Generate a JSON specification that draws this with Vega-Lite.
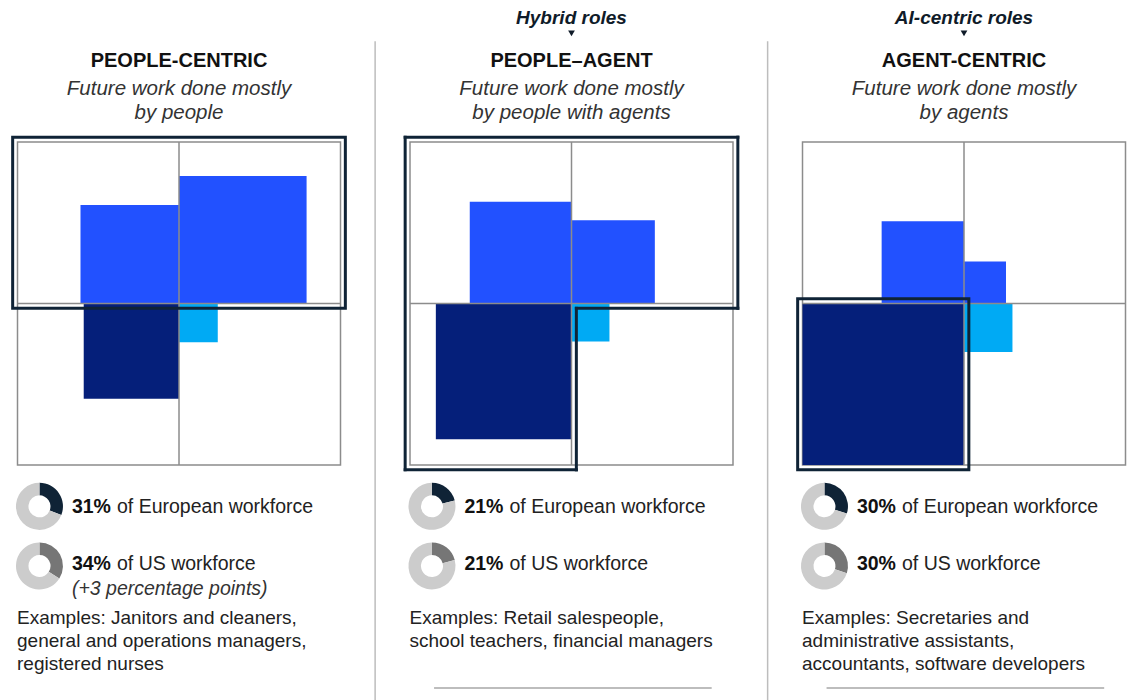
{
  "$schema": "https://vega.github.io/schema/vega-lite/v6.json",
  "padding": 0,
  "bounds": "flush",
  "background": "white",
  "spacing": 42.5,
  "config": {"view": {"stroke": null}, "font": "Liberation Sans", "axis": {"disable": true}},
  "data": {"values": [
    {"kind": "panel", "p": 1}, {"kind": "panel", "p": 2}, {"kind": "panel", "p": 3},
    {"kind": "sq", "p": 1, "quadrant": "TL", "across": -61, "up": 61},
    {"kind": "sq", "p": 1, "quadrant": "TR", "across": 79, "up": 79},
    {"kind": "sq", "p": 1, "quadrant": "BL", "across": -59, "up": -59},
    {"kind": "sq", "p": 1, "quadrant": "BR", "across": 24, "up": -24},
    {"kind": "sq", "p": 2, "quadrant": "TL", "across": -63, "up": 63},
    {"kind": "sq", "p": 2, "quadrant": "TR", "across": 51.6, "up": 51.6},
    {"kind": "sq", "p": 2, "quadrant": "BL", "across": -84, "up": -84},
    {"kind": "sq", "p": 2, "quadrant": "BR", "across": 23.5, "up": -23.5},
    {"kind": "sq", "p": 3, "quadrant": "TL", "across": -51, "up": 51},
    {"kind": "sq", "p": 3, "quadrant": "TR", "across": 26, "up": 26},
    {"kind": "sq", "p": 3, "quadrant": "BL", "across": -100, "up": -100},
    {"kind": "sq", "p": 3, "quadrant": "BR", "across": 30, "up": -30},
    {"kind": "text", "slot": "kicker", "p": 2, "text": "Hybrid roles"},
    {"kind": "text", "slot": "kicker", "p": 3, "text": "AI-centric roles"},
    {"kind": "text", "slot": "title", "p": 1, "text": "PEOPLE-CENTRIC"},
    {"kind": "text", "slot": "title", "p": 2, "text": "PEOPLE–AGENT"},
    {"kind": "text", "slot": "title", "p": 3, "text": "AGENT-CENTRIC"},
    {"kind": "text", "slot": "subtitle", "p": 1, "text": "Future work done mostly\nby people"},
    {"kind": "text", "slot": "subtitle", "p": 2, "text": "Future work done mostly\nby people with agents"},
    {"kind": "text", "slot": "subtitle", "p": 3, "text": "Future work done mostly\nby agents"},
    {"kind": "text", "slot": "eu_val", "p": 1, "text": "31%"},
    {"kind": "text", "slot": "eu_val", "p": 2, "text": "21%"},
    {"kind": "text", "slot": "eu_val", "p": 3, "text": "30%"},
    {"kind": "text", "slot": "eu_lab", "p": 1, "text": "of European workforce"},
    {"kind": "text", "slot": "eu_lab", "p": 2, "text": "of European workforce"},
    {"kind": "text", "slot": "eu_lab", "p": 3, "text": "of European workforce"},
    {"kind": "text", "slot": "us_val", "p": 1, "text": "34%"},
    {"kind": "text", "slot": "us_val", "p": 2, "text": "21%"},
    {"kind": "text", "slot": "us_val", "p": 3, "text": "30%"},
    {"kind": "text", "slot": "us_lab", "p": 1, "text": "of US workforce"},
    {"kind": "text", "slot": "us_lab", "p": 2, "text": "of US workforce"},
    {"kind": "text", "slot": "us_lab", "p": 3, "text": "of US workforce"},
    {"kind": "text", "slot": "us_note", "p": 1, "text": "(+3 percentage points)"},
    {"kind": "text", "slot": "examples", "p": 1, "text": "Examples: Janitors and cleaners,\ngeneral and operations managers,\nregistered nurses"},
    {"kind": "text", "slot": "examples", "p": 2, "text": "Examples: Retail salespeople,\nschool teachers, financial managers"},
    {"kind": "text", "slot": "examples", "p": 3, "text": "Examples: Secretaries and\nadministrative assistants,\naccountants, software developers"},
    {"kind": "donut", "p": 1, "region": "EU", "tone": "eu", "ord": 1, "value": 31},
    {"kind": "donut", "p": 1, "region": "EU", "tone": "rest", "ord": 2, "value": 69},
    {"kind": "donut", "p": 1, "region": "US", "tone": "us", "ord": 1, "value": 34},
    {"kind": "donut", "p": 1, "region": "US", "tone": "rest", "ord": 2, "value": 66},
    {"kind": "donut", "p": 2, "region": "EU", "tone": "eu", "ord": 1, "value": 21},
    {"kind": "donut", "p": 2, "region": "EU", "tone": "rest", "ord": 2, "value": 79},
    {"kind": "donut", "p": 2, "region": "US", "tone": "us", "ord": 1, "value": 21},
    {"kind": "donut", "p": 2, "region": "US", "tone": "rest", "ord": 2, "value": 79},
    {"kind": "donut", "p": 3, "region": "EU", "tone": "eu", "ord": 1, "value": 30},
    {"kind": "donut", "p": 3, "region": "EU", "tone": "rest", "ord": 2, "value": 70},
    {"kind": "donut", "p": 3, "region": "US", "tone": "us", "ord": 1, "value": 30},
    {"kind": "donut", "p": 3, "region": "US", "tone": "rest", "ord": 2, "value": 70}
  ]},
  "facet": {"column": {"field": "p", "type": "ordinal", "header": null}},
  "spec": {
    "width": 350,
    "height": 700,
    "layer": [
      {
        "transform": [{"filter": "datum.kind == 'panel'"}],
        "mark": {"type": "rect", "fill": "white", "stroke": "#8C8C8C", "strokeWidth": 1.5},
        "encoding": {
          "x": {"datum": -100, "scale": {"domain": [-110.84, 105.88], "nice": false, "zero": false}, "axis": null},
          "x2": {"datum": 100},
          "y": {"datum": -100, "scale": {"domain": [-245.51, 187.93], "nice": false, "zero": false}, "axis": null},
          "y2": {"datum": 100}
        }
      },
      {
        "transform": [{"filter": "datum.kind == 'sq'"}],
        "mark": {"type": "rect"},
        "encoding": {
          "x": {"field": "across", "type": "quantitative"},
          "x2": {"datum": 0},
          "y": {"field": "up", "type": "quantitative"},
          "y2": {"datum": 0},
          "color": {"field": "quadrant", "type": "nominal", "legend": null,
            "scale": {"domain": ["TL", "TR", "BL", "BR", "eu", "us", "rest"], "range": ["#2251FF", "#2251FF", "#051F7A", "#00AAF4", "#0F2336", "#767676", "#CCCCCC"]}}
        }
      },
      {
        "transform": [{"filter": "datum.kind == 'panel'"}],
        "mark": {"type": "rule", "stroke": "#8C8C8C", "strokeWidth": 1.5},
        "encoding": {"x": {"datum": 0}, "y": {"datum": -100}, "y2": {"datum": 100}}
      },
      {
        "transform": [{"filter": "datum.kind == 'panel'"}],
        "mark": {"type": "rule", "stroke": "#8C8C8C", "strokeWidth": 1.5},
        "encoding": {"y": {"datum": 0}, "x": {"datum": -100}, "x2": {"datum": 100}}
      },
      {
        "transform": [{"filter": "datum.kind == 'panel' && datum.p == 1"}],
        "mark": {"type": "rect", "filled": false, "stroke": "#0F2336", "strokeWidth": 3},
        "encoding": {"x": {"datum": -103}, "x2": {"datum": 103}, "y": {"datum": -3}, "y2": {"datum": 103}}
      },
      {
        "transform": [{"filter": "datum.kind == 'panel' && datum.p == 3"}],
        "mark": {"type": "rect", "filled": false, "stroke": "#0F2336", "strokeWidth": 3},
        "encoding": {"x": {"datum": -103}, "x2": {"datum": 3}, "y": {"datum": -103}, "y2": {"datum": 3}}
      },
      {
        "transform": [{"filter": "datum.kind == 'panel' && datum.p == 2"}],
        "mark": {"type": "rule", "stroke": "#0F2336", "strokeWidth": 3, "strokeCap": "square"},
        "encoding": {"x": {"datum": -103}, "x2": {"datum": 103}, "y": {"datum": 103}}
      },
      {
        "transform": [{"filter": "datum.kind == 'panel' && datum.p == 2"}],
        "mark": {"type": "rule", "stroke": "#0F2336", "strokeWidth": 3, "strokeCap": "square"},
        "encoding": {"x": {"datum": 103}, "y": {"datum": 103}, "y2": {"datum": -3}}
      },
      {
        "transform": [{"filter": "datum.kind == 'panel' && datum.p == 2"}],
        "mark": {"type": "rule", "stroke": "#0F2336", "strokeWidth": 3, "strokeCap": "square"},
        "encoding": {"x": {"datum": 103}, "x2": {"datum": 3}, "y": {"datum": -3}}
      },
      {
        "transform": [{"filter": "datum.kind == 'panel' && datum.p == 2"}],
        "mark": {"type": "rule", "stroke": "#0F2336", "strokeWidth": 3, "strokeCap": "square"},
        "encoding": {"x": {"datum": 3}, "y": {"datum": -3}, "y2": {"datum": -103}}
      },
      {
        "transform": [{"filter": "datum.kind == 'panel' && datum.p == 2"}],
        "mark": {"type": "rule", "stroke": "#0F2336", "strokeWidth": 3, "strokeCap": "square"},
        "encoding": {"x": {"datum": 3}, "x2": {"datum": -103}, "y": {"datum": -103}}
      },
      {
        "transform": [{"filter": "datum.kind == 'panel' && datum.p == 2"}],
        "mark": {"type": "rule", "stroke": "#0F2336", "strokeWidth": 3, "strokeCap": "square"},
        "encoding": {"x": {"datum": -103}, "y": {"datum": -103}, "y2": {"datum": 103}}
      },
      {
        "transform": [{"filter": "datum.kind == 'panel' && datum.p > 1"}],
        "mark": {"type": "rule", "stroke": "#BDBDBD", "strokeWidth": 1.5},
        "encoding": {"x": {"datum": -121.6}, "y": {"datum": 162.4}, "y2": {"datum": -245.5}}
      },
      {
        "transform": [{"filter": "datum.kind == 'panel' && datum.p > 1"}],
        "mark": {"type": "rule", "stroke": "#BDBDBD", "strokeWidth": 2},
        "encoding": {"x": {"datum": -85.1}, "x2": {"datum": 86.8}, "y": {"datum": -238.1}}
      },
      {
        "transform": [{"filter": "datum.kind == 'text' && datum.slot == 'kicker'"}],
        "mark": {"type": "text", "align": "center", "baseline": "alphabetic", "fontSize": 19, "fontWeight": "bold", "fontStyle": "italic", "color": "#0F1B29"},
        "encoding": {"x": {"datum": 0}, "y": {"datum": 173.2}, "text": {"field": "text"}}
      },
      {
        "transform": [{"filter": "datum.kind == 'text' && datum.slot == 'kicker'"}],
        "mark": {"type": "point", "shape": "triangle-down", "filled": true, "size": 45, "color": "#0F1B29", "opacity": 1},
        "encoding": {"x": {"datum": 0}, "y": {"datum": 167.3}}
      },
      {
        "transform": [{"filter": "datum.kind == 'text' && datum.slot == 'title'"}],
        "mark": {"type": "text", "align": "center", "baseline": "alphabetic", "fontSize": 20, "fontWeight": "bold", "color": "#111111"},
        "encoding": {"x": {"datum": 0}, "y": {"datum": 146.6}, "text": {"field": "text"}}
      },
      {
        "transform": [{"filter": "datum.kind == 'text' && datum.slot == 'subtitle'"}],
        "mark": {"type": "text", "align": "center", "baseline": "alphabetic", "fontSize": 20.5, "fontStyle": "italic", "color": "#333333", "lineBreak": "\n", "lineHeight": 24},
        "encoding": {"x": {"datum": 0}, "y": {"datum": 128.8}, "text": {"field": "text"}}
      },
      {
        "transform": [{"filter": "datum.kind == 'text' && datum.slot == 'eu_val'"}],
        "mark": {"type": "text", "align": "left", "baseline": "alphabetic", "fontSize": 19.5, "fontWeight": "bold", "color": "#111111"},
        "encoding": {"x": {"datum": -66.3}, "y": {"datum": -129.5}, "text": {"field": "text"}}
      },
      {
        "transform": [{"filter": "datum.kind == 'text' && datum.slot == 'eu_lab'"}],
        "mark": {"type": "text", "align": "left", "baseline": "alphabetic", "fontSize": 19.5, "color": "#222222"},
        "encoding": {"x": {"datum": -38.4}, "y": {"datum": -129.5}, "text": {"field": "text"}}
      },
      {
        "transform": [{"filter": "datum.kind == 'text' && datum.slot == 'us_val'"}],
        "mark": {"type": "text", "align": "left", "baseline": "alphabetic", "fontSize": 19.5, "fontWeight": "bold", "color": "#111111"},
        "encoding": {"x": {"datum": -66.3}, "y": {"datum": -165.2}, "text": {"field": "text"}}
      },
      {
        "transform": [{"filter": "datum.kind == 'text' && datum.slot == 'us_lab'"}],
        "mark": {"type": "text", "align": "left", "baseline": "alphabetic", "fontSize": 19.5, "color": "#222222"},
        "encoding": {"x": {"datum": -38.4}, "y": {"datum": -165.2}, "text": {"field": "text"}}
      },
      {
        "transform": [{"filter": "datum.kind == 'text' && datum.slot == 'us_note'"}],
        "mark": {"type": "text", "align": "left", "baseline": "alphabetic", "fontSize": 19.5, "fontStyle": "italic", "color": "#333333"},
        "encoding": {"x": {"datum": -66.3}, "y": {"datum": -180.3}, "text": {"field": "text"}}
      },
      {
        "transform": [{"filter": "datum.kind == 'text' && datum.slot == 'examples'"}],
        "mark": {"type": "text", "align": "left", "baseline": "alphabetic", "fontSize": 19, "color": "#222222", "lineBreak": "\n", "lineHeight": 23.3},
        "encoding": {"x": {"datum": -100.3}, "y": {"datum": -198.2}, "text": {"field": "text"}}
      },
      {
        "transform": [{"filter": "datum.kind == 'donut' && datum.region == 'EU'"}],
        "mark": {"type": "arc", "radius": 23.5, "radius2": 11},
        "encoding": {
          "x": {"datum": -86.4}, "y": {"datum": -125.6},
          "theta": {"field": "value", "type": "quantitative", "stack": true},
          "order": {"field": "ord"},
          "detail": {"field": "p", "type": "nominal"},
          "color": {"field": "tone", "type": "nominal", "legend": null,
            "scale": {"domain": ["TL", "TR", "BL", "BR", "eu", "us", "rest"], "range": ["#2251FF", "#2251FF", "#051F7A", "#00AAF4", "#0F2336", "#767676", "#CCCCCC"]}}
        }
      },
      {
        "transform": [{"filter": "datum.kind == 'donut' && datum.region == 'US'"}],
        "mark": {"type": "arc", "radius": 23.5, "radius2": 11},
        "encoding": {
          "x": {"datum": -86.4}, "y": {"datum": -162.5},
          "theta": {"field": "value", "type": "quantitative", "stack": true},
          "order": {"field": "ord"},
          "detail": {"field": "p", "type": "nominal"},
          "color": {"field": "tone", "type": "nominal", "legend": null,
            "scale": {"domain": ["TL", "TR", "BL", "BR", "eu", "us", "rest"], "range": ["#2251FF", "#2251FF", "#051F7A", "#00AAF4", "#0F2336", "#767676", "#CCCCCC"]}}
        }
      }
    ]
  }
}
